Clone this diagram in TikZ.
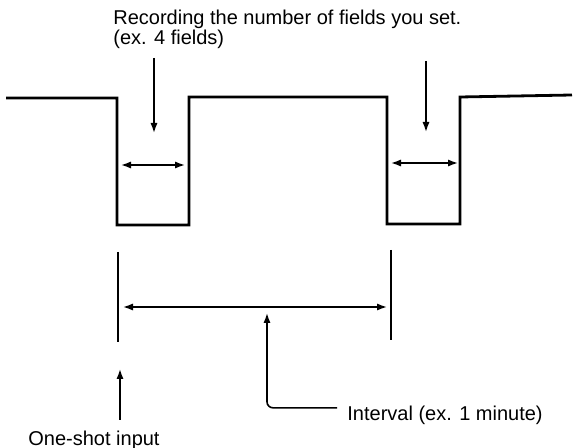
\documentclass[tikz,border=0pt]{standalone}
\usepackage{fontspec}
\setmainfont{Liberation Sans}
\usetikzlibrary{arrows.meta, positioning}

\tikzset{
  pulse/.style={line width=1.4pt, line join=miter},
  thinline/.style={line width=0.8pt},
  tip/.style={thinline, -{Latex[length=5pt,width=3.6pt]}},
  both/.style={thinline, {Latex[length=5pt,width=3.6pt]}-{Latex[length=5pt,width=3.6pt]}},
  note/.style={inner sep=0pt, font=\fontsize{10}{12}\selectfont}
}

\begin{document}
\begin{tikzpicture}[x=0.5pt, y=-0.5pt]
  \useasboundingbox (0,0) rectangle (574,448);

  % texts
  \node[note, anchor=base west] (rec) at (113,25) {Recording the number of fields you set.};
  \node[note, anchor=base west] (ex) at (113,45) {(ex. 4 fields)};
  \node[note, anchor=base west] (intv) at (347,421) {Interval (ex. 1 minute)};
  \node[note, anchor=base west] (oneshot) at (28,446) {One-shot input};

  % signal
  \draw[pulse] (6,98) -- (117,98) -- (117,225) -- (189,225) -- (189,97)
    -- (387,97) -- (387,224) -- (460,224) -- (460,97) -- (572,95);

  % field markers
  \coordinate (f1top) at (154,58);
  \coordinate (f1bot) at (154,133);
  \coordinate (f2top) at (426,61);
  \coordinate (f2bot) at (426,132);
  \draw[tip] (f1top) -- (f1bot);
  \draw[tip] (f2top) -- (f2bot);
  \draw[both] (121,165) -- (185,165);
  \draw[both] (391,163) -- (458,163);

  % interval
  \coordinate (lt) at (118,252);
  \coordinate (lb) at (118,342);
  \coordinate (rt) at (391,250);
  \coordinate (rb) at (391,340);
  \draw[thinline] (lt) -- (lb);
  \draw[thinline] (rt) -- (rb);
  \draw[both] (123,307) -- (387,307);
  \coordinate (itip) at (267,313);
  \draw[tip, rounded corners=3pt] (intv.west) ++(-10,-8) -| (itip);

  % trigger
  \coordinate (os1) at (120,420);
  \coordinate (os2) at (120,369);
  \draw[tip] (os1) -- (os2);
\end{tikzpicture}
\end{document}
